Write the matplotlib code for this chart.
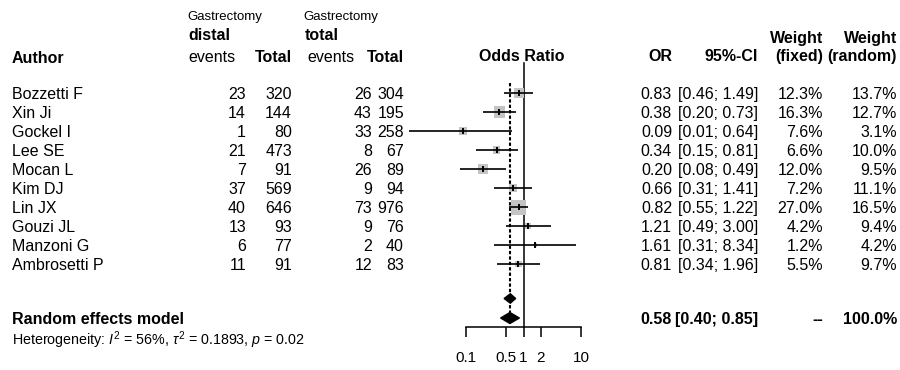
import matplotlib
matplotlib.use('Agg')
import matplotlib.pyplot as plt
from matplotlib.patches import Polygon
import numpy as np

plt.rcParams['font.family'] = ['Liberation Sans', 'DejaVu Sans']
plt.rcParams['mathtext.fontset'] = 'custom'
plt.rcParams['mathtext.rm'] = 'Liberation Sans'
plt.rcParams['mathtext.it'] = 'Liberation Sans:italic'
plt.rcParams['mathtext.bf'] = 'Liberation Sans:bold'

# ---------------- data ----------------
authors = ["Bozzetti F", "Xin Ji", "Gockel I", "Lee SE", "Mocan L", "Kim DJ",
           "Lin JX", "Gouzi JL", "Manzoni G", "Ambrosetti P"]
distal_events = [23, 14, 1, 21, 7, 37, 40, 13, 6, 11]
distal_total = [320, 144, 80, 473, 91, 569, 646, 93, 77, 91]
total_events = [26, 43, 33, 8, 26, 9, 73, 9, 2, 12]
total_total = [304, 195, 258, 67, 89, 94, 976, 76, 40, 83]
odds_ratio = [0.83, 0.38, 0.09, 0.34, 0.20, 0.66, 0.82, 1.21, 1.61, 0.81]
ci_lower = [0.46, 0.20, 0.01, 0.15, 0.08, 0.31, 0.55, 0.49, 0.31, 0.34]
ci_upper = [1.49, 0.73, 0.64, 0.81, 0.49, 1.41, 1.22, 3.00, 8.34, 1.96]
weight_fixed = [12.3, 16.3, 7.6, 6.6, 12.0, 7.2, 27.0, 4.2, 1.2, 5.5]
weight_random = [13.7, 12.7, 3.1, 10.0, 9.5, 11.1, 16.5, 9.4, 4.2, 9.7]
random_or, random_lo, random_hi = 0.58, 0.40, 0.85
fixed_or, fixed_lo, fixed_hi = 0.59, 0.46, 0.73   # unlabeled diamond (estimated)
tick_values = [0.1, 0.5, 1, 2, 10]
tick_labels = ["0.1", "0.5", "1", "2", "10"]

# ---------------- layout ----------------
W, H = 900, 370
fig = plt.figure(figsize=(W / 100, H / 100), dpi=100)
tax = fig.add_axes([0, 0, 1, 1])
tax.set_xlim(0, W)
tax.set_ylim(H, 0)
tax.axis('off')

fax = fig.add_axes([466 / W, 0, 115 / W, 1])
fax.set_xscale('log')
fax.set_xlim(0.1, 10)
fax.set_ylim(H, 0)
fax.patch.set_visible(False)
for s in ['left', 'right', 'top']:
    fax.spines[s].set_visible(False)
fax.spines['bottom'].set_position(('data', 327))
fax.spines['bottom'].set_bounds(0.1, 10)
fax.spines['bottom'].set_linewidth(1.1)
fax.set_yticks([])
fax.set_xticks(tick_values)
fax.set_xticklabels(tick_labels)
fax.xaxis.set_minor_locator(matplotlib.ticker.NullLocator())
fax.tick_params(axis='x', direction='out', length=7.2, width=1.1, pad=10, labelsize=11)

FS = 11.5
row0, dy = 93, 19
off = 5.8  # baseline offset for cap-centering


def T(x, y, s, ha='left', bold=False, size=FS):
    tax.text(x, y + off * size / FS, s, ha=ha, va='baseline', fontsize=size,
             fontweight='bold' if bold else 'normal')


# headers
T(187, 15, "Gastrectomy", size=9.5)
T(188, 34, "distal", bold=True)
T(188, 56, "events")
T(292, 56, "Total", ha='right', bold=True)
T(303, 15, "Gastrectomy", size=9.5)
T(305, 34, "total", bold=True)
T(307, 56, "events")
T(404, 56, "Total", ha='right', bold=True)
T(12, 57, "Author", bold=True)
T(522, 55, "Odds Ratio", ha='center', bold=True)
T(672, 55, "OR", ha='right', bold=True)
T(758, 55, "95%-CI", ha='right', bold=True)
T(823, 37, "Weight", ha='right', bold=True)
T(823, 55, "(fixed)", ha='right', bold=True)
T(897, 37, "Weight", ha='right', bold=True)
T(897, 55, "(random)", ha='right', bold=True)

# rows
for i, a in enumerate(authors):
    y = row0 + dy * i
    T(12, y, a)
    T(246, y, str(distal_events[i]), ha='right')
    T(292, y, str(distal_total[i]), ha='right')
    T(372, y, str(total_events[i]), ha='right')
    T(404, y, str(total_total[i]), ha='right')
    T(672, y, f"{odds_ratio[i]:.2f}", ha='right')
    T(758, y, f"[{ci_lower[i]:.2f}; {ci_upper[i]:.2f}]", ha='right')
    T(823, y, f"{weight_fixed[i]:.1f}%", ha='right')
    T(897, y, f"{weight_random[i]:.1f}%", ha='right')

    side = 15 * np.sqrt(weight_fixed[i] / 27.0) * 0.72
    fax.scatter([odds_ratio[i]], [y], s=side ** 2, marker='s', color='#c4c4c4',
                edgecolors='none', zorder=2, clip_on=False)
    fax.plot([ci_lower[i], ci_upper[i]], [y, y], color='black', lw=1.2,
             zorder=3, clip_on=False, solid_capstyle='butt')
    fax.plot([odds_ratio[i]], [y], marker='|', ms=5, mew=1.4, color='black',
             zorder=4, clip_on=False)

# summary
ys = 318
T(12, ys, "Random effects model", bold=True)
T(672, ys, f"{random_or:.2f}", ha='right', bold=True)
T(758, ys, f"[{random_lo:.2f}; {random_hi:.2f}]", ha='right', bold=True)
T(823, ys, "--", ha='right', bold=True)
T(897, ys, "100.0%", ha='right', bold=True)
tax.text(12, 340 + 5, r"Heterogeneity: $\mathit{I}^2$ = 56%, $\tau^2$ = 0.1893, $\mathit{p}$ = 0.02",
         ha='left', va='baseline', fontsize=10.3)

# reference lines
fax.plot([1, 1], [63, 327], color='black', lw=1.1, zorder=1)
fax.plot([random_or, random_or], [83, 313], color='black', lw=1.5,
         ls=(0, (1.6, 1.0)), zorder=1)

# diamonds
yf = 298.5
fax.add_patch(Polygon([(fixed_lo, yf), (fixed_or, yf - 4.7), (fixed_hi, yf), (fixed_or, yf + 4.7)],
                      closed=True, color='black', zorder=5))
fax.add_patch(Polygon([(random_lo, ys), (random_or, ys - 5.5), (random_hi, ys), (random_or, ys + 5.5)],
                      closed=True, color='black', zorder=5))

fig.savefig('out.png', dpi=100)
